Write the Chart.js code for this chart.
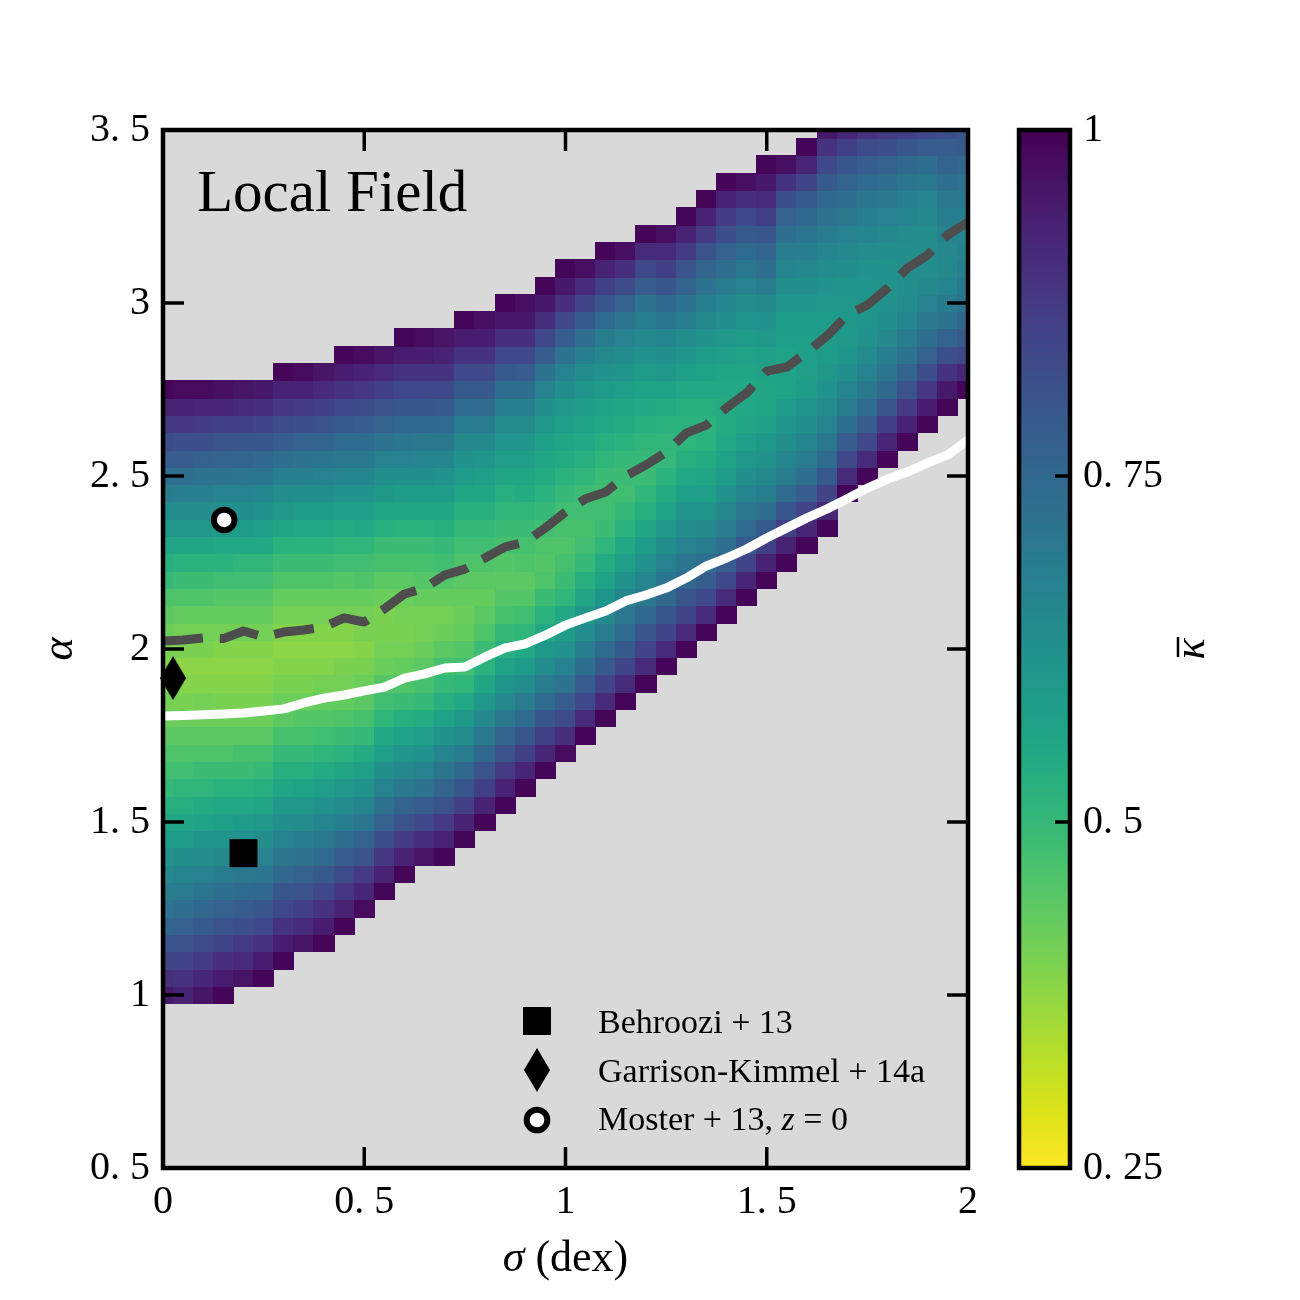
<!DOCTYPE html>
<html><head><meta charset="utf-8">
<script src="https://cdn.jsdelivr.net/npm/chart.js@4.4.1/dist/chart.umd.min.js"></script>
<style>html,body{margin:0;padding:0;background:#fff}#wrap{position:relative;width:1300px;height:1300px}canvas{position:absolute;left:0;top:0}</style>
</head><body><div id="wrap"><canvas id="main" width="1300" height="1300"></canvas><canvas id="cbar" width="1300" height="1300"></canvas></div>
<script>
// ---------------- DATA ----------------
const sigmaGrid = [0,0.05,0.1,0.15,0.2,0.25,0.3,0.35,0.4,0.45,0.5,0.55,0.6,0.65,0.7,0.75,0.8,0.85,0.9,0.95,1,1.05,1.1,1.15,1.2,1.25,1.3,1.35,1.4,1.45,1.5,1.55,1.6,1.65,1.7,1.75,1.8,1.85,1.9,1.95,2];
// lowest coloured alpha (cell centre) in each sigma column
const alphaBottom = [1.00,1.00,1.00,1.00,1.05,1.05,1.10,1.15,1.15,1.20,1.25,1.30,1.35,1.40,1.40,1.45,1.50,1.55,1.60,1.65,1.70,1.75,1.80,1.85,1.90,1.95,2.00,2.05,2.10,2.15,2.20,2.25,2.30,2.35,2.45,2.50,2.55,2.60,2.65,2.70,2.75];
// kappa-bar x 100, per column, from alphaBottom upward in steps of 0.05
const kappaByColumn = [
[95,90,85,80,76,72,69,65,62,59,56,53,50,48,46,44,42,41,40,39,40,42,44,46,50,53,56,60,64,69,73,78,83,88,93,99],
[93,89,85,81,77,73,69,66,63,59,56,53,51,48,46,44,42,40,39,38,40,41,43,46,49,52,56,60,64,68,73,78,82,88,93,98],
[96,92,87,83,79,75,71,67,64,61,57,54,51,49,46,44,42,41,39,38,40,41,43,46,49,52,56,60,64,68,72,77,82,87,92,98],
[99,94,90,85,81,77,73,69,65,61,58,55,52,49,46,44,42,40,39,38,39,41,43,45,48,52,55,59,63,67,72,76,81,86,92,97],
[96,91,87,82,78,74,70,66,62,59,55,52,49,47,44,42,40,39,38,39,41,43,45,48,51,55,59,63,67,71,76,80,86,91,96],
[99,94,89,84,80,75,71,67,63,60,56,53,50,47,44,42,40,39,38,39,41,43,45,48,51,55,58,62,66,71,75,80,85,90,95],
[99,94,89,84,80,75,71,67,63,60,56,53,50,47,44,42,40,39,38,39,41,43,46,49,52,56,60,64,68,73,78,83,88,93,99],
[96,91,86,81,77,72,68,64,60,57,53,50,47,45,42,40,39,38,39,41,43,46,49,52,55,59,63,68,72,77,82,87,93,98],
[99,94,89,84,79,74,70,66,62,58,54,51,48,45,43,41,39,38,39,41,43,46,49,52,55,59,63,67,71,76,81,86,91,96],
[99,93,88,83,78,73,68,64,60,56,52,49,46,43,41,40,38,39,41,43,45,48,51,54,58,62,66,70,74,79,84,89,94,99],
[98,92,87,81,76,71,66,62,58,54,50,47,44,42,40,39,40,41,43,46,48,51,55,58,62,66,70,74,78,83,88,93,98],
[99,93,88,82,77,72,67,63,58,55,51,48,45,42,41,40,40,42,44,47,49,53,56,60,63,67,72,76,81,86,91,96],
[99,93,87,81,76,70,65,61,57,53,49,46,43,41,40,41,42,44,47,49,52,56,59,63,67,71,75,80,84,89,94,99],
[96,90,84,78,72,67,62,58,54,50,47,44,42,41,41,43,45,47,49,52,56,59,63,66,70,75,80,84,89,94,98],
[99,93,87,81,76,71,66,62,57,53,50,47,44,42,41,43,45,48,50,53,56,59,62,66,70,74,79,84,89,93,96],
[99,93,86,80,75,69,64,60,55,51,48,45,43,42,43,44,46,48,50,53,56,59,62,65,69,74,79,84,89,94,99],
[99,93,86,81,75,70,65,60,56,52,49,46,44,43,44,46,48,50,53,56,58,61,65,69,74,79,84,89,94,97],
[99,93,87,81,76,70,65,61,57,53,50,47,45,44,45,47,49,51,53,56,58,61,64,68,73,79,84,90,95,99],
[99,92,86,80,74,69,64,59,55,51,48,45,44,46,47,49,51,54,56,58,61,64,68,73,78,84,90,95,97],
[99,92,86,80,74,69,64,60,55,52,49,46,45,46,48,50,52,54,56,58,60,63,67,72,78,84,90,95,99],
[98,90,83,78,72,67,62,59,55,51,49,47,46,47,48,50,52,54,56,58,60,63,67,72,78,84,90,95,99],
[99,91,84,78,73,68,64,60,56,53,50,48,47,48,49,51,53,55,57,59,61,64,68,73,79,85,91,97],
[99,91,85,79,74,69,65,61,57,54,51,49,48,48,49,51,53,55,57,59,62,65,69,74,80,86,93,99],
[99,91,85,79,74,70,66,62,58,55,52,50,48,49,50,52,54,56,58,61,64,67,71,77,83,90,97],
[99,91,85,80,75,70,66,62,59,56,53,51,49,50,51,53,55,57,59,62,65,68,72,78,84,91,99],
[99,91,85,80,75,71,67,63,60,57,54,52,50,51,52,54,57,60,63,66,71,75,80,86,91,97],
[99,91,85,80,75,71,67,64,61,58,55,53,51,52,53,55,58,61,64,68,72,76,81,87,93,99],
[99,91,84,78,73,69,65,61,58,56,54,52,52,53,55,57,59,62,65,68,72,76,81,87,93,99],
[99,91,84,78,73,69,65,62,59,57,55,54,54,55,56,58,60,63,66,69,73,77,82,87,93,99],
[99,92,85,79,74,70,66,63,60,58,56,55,55,56,57,59,61,64,67,70,74,79,84,90,97],
[99,93,86,79,73,68,65,62,60,58,56,56,57,58,60,62,65,69,73,76,80,86,91,95,99],
[99,93,86,80,74,69,66,63,61,59,57,57,57,58,59,61,63,66,69,73,77,82,89,97],
[99,92,85,78,73,69,66,63,61,59,58,58,58,59,61,63,65,68,71,75,79,85,92,99],
[99,92,85,79,74,70,67,64,62,60,59,59,59,60,62,64,66,69,72,75,79,84,89,95],
[99,91,84,78,73,69,66,63,61,60,60,60,61,63,65,67,70,73,76,80,86,92],
[99,91,84,78,74,70,67,64,62,61,61,61,62,64,66,68,71,74,78,83,89],
[99,92,86,80,75,71,68,65,63,62,62,62,63,65,67,70,73,77,82,87],
[99,93,87,81,76,72,69,66,64,63,63,63,64,66,68,71,75,80,86],
[99,94,88,82,77,73,70,67,65,64,64,64,65,67,70,73,78,84],
[99,95,89,82,76,72,69,66,65,65,67,68,70,73,76,78,82],
[99,92,84,79,75,72,70,68,67,66,68,70,72,75,79,80]
];
// white solid curve and grey dashed curve (alpha at each sigmaGrid value)
const whiteAlpha = [1.806,1.808,1.810,1.812,1.815,1.821,1.827,1.844,1.858,1.867,1.879,1.890,1.916,1.928,1.945,1.948,1.977,2.003,2.015,2.040,2.069,2.090,2.110,2.139,2.156,2.176,2.205,2.240,2.263,2.289,2.321,2.350,2.379,2.405,2.434,2.465,2.491,2.512,2.538,2.561,2.604];
const dashAlpha = [2.023,2.026,2.032,2.030,2.052,2.035,2.049,2.055,2.064,2.090,2.078,2.116,2.159,2.176,2.214,2.231,2.263,2.295,2.309,2.350,2.396,2.434,2.454,2.500,2.532,2.569,2.624,2.647,2.697,2.740,2.803,2.815,2.858,2.905,2.965,2.994,3.043,3.101,3.139,3.197,3.234];
// literature points [sigma, alpha]
const behrooziPoint = [0.2, 1.41];
const garrisonPoint = [0.025, 1.916];
const mosterPoint = [0.152, 2.373];
const legendLabels = ['Behroozi + 13', 'Garrison-Kimmel + 14a', 'Moster + 13, '];
const xTickLabels = ['0', '0. 5', '1', '1. 5', '2'];
const yTickLabels = ['0. 5', '1', '1. 5', '2', '2. 5', '3', '3. 5'];
const cbarTickLabels = ['0. 25', '0. 5', '0. 75', '1'];
const panelTitle = 'Local Field';

// ---------------- STYLE ----------------
const FONT = '"Liberation Serif", "Times New Roman", serif';
const CELL_HALF = 0.025, ROW_STEP = 0.05;
const VIRIDIS = ['#440154','#471365','#482475','#463480','#414487','#3b528b','#355f8d','#2f6c8e','#2a788e','#25848e','#21918c','#1e9c89','#22a884','#2fb47c','#44bf70','#5ec962','#7ad151','#9bd93c','#bddf26','#dfe318','#fde725'];
const VRGB = VIRIDIS.map(h => [parseInt(h.slice(1,3),16), parseInt(h.slice(3,5),16), parseInt(h.slice(5,7),16)]);
function viridis(t) {
  t = Math.max(0, Math.min(1, t));
  const p = t * (VRGB.length - 1), i = Math.min(Math.floor(p), VRGB.length - 2), f = p - i;
  const a = VRGB[i], b = VRGB[i + 1];
  return `rgb(${Math.round(a[0] + (b[0]-a[0])*f)},${Math.round(a[1] + (b[1]-a[1])*f)},${Math.round(a[2] + (b[2]-a[2])*f)})`;
}
const KMIN = 0.25, KMAX = 1;
function kappaColor(k) { return viridis((KMAX - k) / (KMAX - KMIN)); }

const diamondImg = document.createElement('canvas');
diamondImg.width = 26; diamondImg.height = 44;
(function () { const d = diamondImg.getContext('2d'); d.fillStyle = '#000'; d.beginPath(); d.moveTo(13,0); d.lineTo(26,22); d.lineTo(13,44); d.lineTo(0,22); d.closePath(); d.fill(); })();

function line(ctx, x1, y1, x2, y2) { ctx.beginPath(); ctx.moveTo(x1, y1); ctx.lineTo(x2, y2); ctx.stroke(); }

const heatmapPlugin = {
  id: 'heatmap',
  beforeDatasetsDraw(chart) {
    const { ctx, chartArea: a, scales: { x, y } } = chart;
    ctx.save();
    ctx.fillStyle = '#d9d9d9';
    ctx.fillRect(a.left, a.top, a.right - a.left, a.bottom - a.top);
    ctx.beginPath(); ctx.rect(a.left, a.top, a.right - a.left, a.bottom - a.top); ctx.clip();
    sigmaGrid.forEach((s, c) => {
      const xl = Math.floor(x.getPixelForValue(s - CELL_HALF)), xr = Math.ceil(x.getPixelForValue(s + CELL_HALF));
      kappaByColumn[c].forEach((k, r) => {
        const al = alphaBottom[c] + r * ROW_STEP;
        const yt = Math.floor(y.getPixelForValue(al + CELL_HALF)), yb = Math.ceil(y.getPixelForValue(al - CELL_HALF));
        ctx.fillStyle = kappaColor(k / 100);
        ctx.fillRect(xl, yt, xr - xl, yb - yt);
      });
    });
    ctx.restore();
  }
};

const TICK_LEN = 21;
const framePlugin = {
  id: 'frame',
  afterDatasetsDraw(chart) {
    const { ctx, chartArea: a, scales: { x, y } } = chart;
    ctx.save();
    ctx.strokeStyle = '#000'; ctx.lineWidth = 3.5; ctx.lineCap = 'butt';
    x.ticks.forEach(t => {
      if (t.value <= x.min || t.value >= x.max) return;
      const px = x.getPixelForValue(t.value);
      line(ctx, px, a.bottom, px, a.bottom - TICK_LEN);
      line(ctx, px, a.top, px, a.top + TICK_LEN);
    });
    y.ticks.forEach(t => {
      if (t.value <= y.min || t.value >= y.max) return;
      const py = y.getPixelForValue(t.value);
      line(ctx, a.left, py, a.left + TICK_LEN, py);
      line(ctx, a.right, py, a.right - TICK_LEN, py);
    });
    ctx.lineWidth = 4.5;
    ctx.strokeRect(a.left, a.top, a.right - a.left, a.bottom - a.top);
    ctx.restore();
  }
};

const textPlugin = {
  id: 'texts',
  afterDraw(chart) {
    const { ctx, chartArea: a, scales: { x, y } } = chart;
    ctx.save();
    ctx.fillStyle = '#000'; ctx.textBaseline = 'alphabetic'; ctx.textAlign = 'left';
    // panel title
    ctx.font = `59px ${FONT}`;
    ctx.fillText(panelTitle, a.left + 34, a.top + 81);
    // legend
    const gx = a.left + 374, tx = a.left + 435;
    const rows = [a.bottom - 147, a.bottom - 98, a.bottom - 48];
    const styles = [
      { pointStyle: 'rect', radius: 19.8, borderWidth: 0, rotation: 0, fill: '#000', stroke: '#000' },
      { pointStyle: diamondImg, radius: 10, borderWidth: 0, rotation: 0, fill: '#000', stroke: '#000' },
      { pointStyle: 'circle', radius: 10.3, borderWidth: 6, rotation: 0, fill: '#fff', stroke: '#000' }
    ];
    styles.forEach((st, i) => {
      ctx.fillStyle = st.fill; ctx.strokeStyle = st.stroke; ctx.lineWidth = st.borderWidth;
      Chart.helpers.drawPoint(ctx, st, gx, rows[i]);
    });
    ctx.fillStyle = '#000';
    const LF = 34;
    ctx.font = `${LF}px ${FONT}`;
    ctx.fillText(legendLabels[0], tx, rows[0] + 12);
    ctx.fillText(legendLabels[1], tx, rows[1] + 12);
    ctx.fillText(legendLabels[2], tx, rows[2] + 10);
    let wx = tx + ctx.measureText(legendLabels[2]).width;
    ctx.font = `italic ${LF}px ${FONT}`;
    ctx.fillText('z', wx, rows[2] + 10);
    wx += ctx.measureText('z').width;
    ctx.font = `${LF}px ${FONT}`;
    ctx.fillText(' = 0', wx, rows[2] + 10);
    // x axis title
    ctx.font = `italic 44px ${FONT}`;
    const w1 = ctx.measureText('σ').width;
    ctx.font = `44px ${FONT}`;
    const w2 = ctx.measureText(' (dex)').width;
    const cx = x.getPixelForValue((x.min + x.max) / 2);
    const x0 = cx - (w1 + w2) / 2;
    ctx.font = `italic 44px ${FONT}`;
    ctx.fillText('σ', x0, 1271);
    ctx.font = `44px ${FONT}`;
    ctx.fillText(' (dex)', x0 + w1, 1271);
    // y axis title
    ctx.translate(60, (a.top + a.bottom) / 2);
    ctx.rotate(-Math.PI / 2);
    ctx.font = `italic 44px ${FONT}`;
    ctx.textAlign = 'center'; ctx.textBaseline = 'middle';
    ctx.fillText('α', 0, 0);
    ctx.restore();
  }
};

const pts = (xs, ys) => xs.map((s, i) => ({ x: s, y: ys[i] }));

new Chart(document.getElementById('main'), {
  type: 'scatter',
  data: {
    datasets: [
      { label: legendLabels[0], data: [{ x: behrooziPoint[0], y: behrooziPoint[1] }], pointStyle: 'rect', pointRadius: 19.8, backgroundColor: '#000', borderColor: '#000', borderWidth: 0 },
      { label: legendLabels[1], data: [{ x: garrisonPoint[0], y: garrisonPoint[1] }], pointStyle: diamondImg, pointRadius: 10, backgroundColor: '#000', borderWidth: 0, clip: false },
      { label: legendLabels[2] + 'z = 0', data: [{ x: mosterPoint[0], y: mosterPoint[1] }], pointStyle: 'circle', pointRadius: 10.3, backgroundColor: '#fff', borderColor: '#000', borderWidth: 6 },
      { label: 'dashed', data: pts(sigmaGrid, dashAlpha), showLine: true, borderColor: '#4d4d4d', borderWidth: 9, borderDash: [40, 17], borderCapStyle: 'butt', borderJoinStyle: 'round', pointRadius: 0, tension: 0 },
      { label: 'white', data: pts(sigmaGrid, whiteAlpha), showLine: true, borderColor: '#ffffff', borderWidth: 9, borderCapStyle: 'butt', borderJoinStyle: 'round', pointRadius: 0, tension: 0 }
    ]
  },
  options: {
    responsive: false, animation: false, devicePixelRatio: 1, events: [],
    layout: { padding: { left: 0, top: 130, right: 332, bottom: 0 } },
    plugins: { legend: { display: false }, tooltip: { enabled: false } },
    scales: {
      x: {
        type: 'linear', position: 'bottom', min: 0, max: 2,
        ticks: { stepSize: 0.5, callback: (v, i) => xTickLabels[i], font: { family: FONT, size: 40 }, color: '#000', padding: 10, maxRotation: 0 },
        grid: { display: false, drawTicks: false }, border: { display: false },
        afterFit: s => { s.height = 132; }
      },
      y: {
        type: 'linear', position: 'left', min: 0.5, max: 3.5,
        ticks: { stepSize: 0.5, callback: (v, i) => yTickLabels[i], font: { family: FONT, size: 40 }, color: '#000', padding: 13 },
        grid: { display: false, drawTicks: false }, border: { display: false },
        afterFit: s => { s.width = 163; }
      }
    }
  },
  plugins: [heatmapPlugin, framePlugin, textPlugin]
});

// ---------------- COLOURBAR ----------------
const colorbarPlugin = {
  id: 'colorbar',
  afterDatasetsDraw(chart) {
    const { ctx, chartArea: a, scales: { y } } = chart;
    ctx.save();
    const g = ctx.createLinearGradient(0, y.getPixelForValue(KMIN), 0, y.getPixelForValue(KMAX));
    for (let i = 0; i <= 40; i++) { const k = KMIN + (KMAX - KMIN) * i / 40; g.addColorStop(i / 40, kappaColor(k)); }
    ctx.fillStyle = g;
    ctx.fillRect(a.left, a.top, a.right - a.left, a.bottom - a.top);
    ctx.strokeStyle = '#000'; ctx.lineWidth = 3.5;
    y.ticks.forEach(t => {
      if (t.value <= y.min || t.value >= y.max) return;
      const py = y.getPixelForValue(t.value);
      line(ctx, a.right, py, a.right - 15, py);
    });
    ctx.lineWidth = 4.5;
    ctx.strokeRect(a.left, a.top, a.right - a.left, a.bottom - a.top);
    // label: kappa with an overbar, rotated
    ctx.translate(1194, (a.top + a.bottom) / 2);
    ctx.rotate(-Math.PI / 2);
    ctx.fillStyle = '#000';
    ctx.font = `italic 44px ${FONT}`;
    ctx.textAlign = 'center'; ctx.textBaseline = 'alphabetic';
    ctx.fillText('κ', 0, 10);
    ctx.lineWidth = 2.5;
    line(ctx, -8, -16, 12, -16);
    ctx.restore();
  }
};

new Chart(document.getElementById('cbar'), {
  type: 'scatter',
  data: { datasets: [] },
  options: {
    responsive: false, animation: false, devicePixelRatio: 1, events: [],
    layout: { padding: { left: 1019, top: 130, right: 79, bottom: 132 } },
    plugins: { legend: { display: false }, tooltip: { enabled: false } },
    scales: {
      x: { type: 'linear', display: false, min: 0, max: 1 },
      y: {
        type: 'linear', position: 'right', min: KMIN, max: KMAX,
        ticks: { stepSize: 0.25, callback: (v, i) => cbarTickLabels[i], font: { family: FONT, size: 40 }, color: '#000', padding: 13 },
        grid: { display: false, drawTicks: false }, border: { display: false },
        afterFit: s => { s.width = 151; }
      }
    }
  },
  plugins: [colorbarPlugin]
});
</script></body></html>
